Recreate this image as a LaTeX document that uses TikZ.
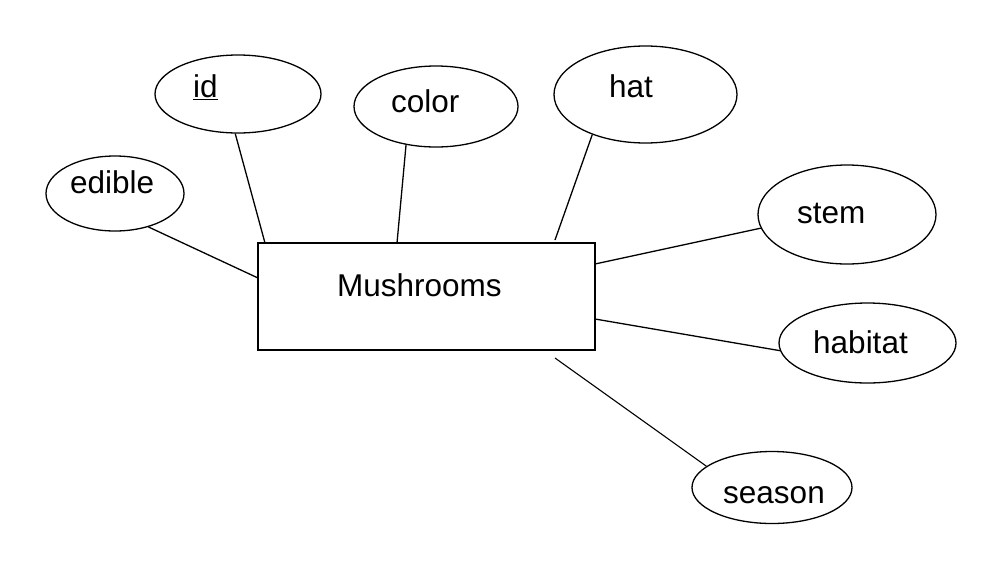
\documentclass[tikz,border=0pt]{standalone}
\usepackage{fontspec}
\setmainfont{Liberation Sans}
\usetikzlibrary{shapes.geometric}
\begin{document}
\begin{tikzpicture}[x=1pt,y=-1pt,
  attr/.style={draw, ellipse, line width=1.3pt, inner sep=0pt},
  entity/.style={draw, rectangle, line width=1.4pt, inner sep=0pt, minimum width=337pt, minimum height=107pt},
  lbl/.style={anchor=base west, inner sep=0pt, font=\fontsize{31.5}{36}\selectfont},
  conn/.style={line width=1.3pt}]
\useasboundingbox (0,0) rectangle (1008,568);
\fill[white] (0,0) rectangle (1008,568);
% entity
\node[entity] (m) at (426.5,296.5) {};
\node[lbl] (mt) at (337,296) {Mushrooms};
% attributes
\node[attr, minimum width=138pt, minimum height=75pt] (edible) at (115,193.5) {};
\node[lbl] (edt) at (70,193) {edible};
\node[attr, minimum width=166pt, minimum height=78pt] (id) at (238,94) {};
\node[lbl] (idt) at (193,97) {\underline{id}};
\node[attr, minimum width=164pt, minimum height=81pt] (color) at (436,106.5) {};
\node[lbl] (cot) at (391,112) {color};
\node[attr, minimum width=183pt, minimum height=97pt] (hat) at (645.5,94.5) {};
\node[lbl] (hat-t) at (609,97) {hat};
\node[attr, minimum width=178pt, minimum height=99pt] (stem) at (847,214.5) {};
\node[lbl] (stt) at (797,223) {stem};
\node[attr, minimum width=177pt, minimum height=80pt] (habitat) at (867.5,343) {};
\node[lbl] (hbt) at (813,353) {habitat};
\node[attr, minimum width=160pt, minimum height=72pt] (season) at (772,487.5) {};
\node[lbl] (set) at (723,503) {season};
% connector ends on the entity
\coordinate (pe) at (258,278);
\coordinate (pi) at (265,243);
\coordinate (pc) at (397,243);
\coordinate (ph) at (555,240);
\coordinate (ps) at (595,264);
\coordinate (pb) at (595,319);
\coordinate (pn) at (555,358);
% connectors
\draw[conn] (edible.-45) -- (pe);
\draw[conn] (id.-94) -- (pi);
\draw[conn] (color.-128) -- (pc);
\draw[conn] (hat.-143) -- (ph);
\draw[conn] (stem.-171) -- (ps);
\draw[conn] (habitat.-175) -- (pb);
\draw[conn, line width=1.1pt] (season.162) -- (pn);
\end{tikzpicture}
\end{document}
